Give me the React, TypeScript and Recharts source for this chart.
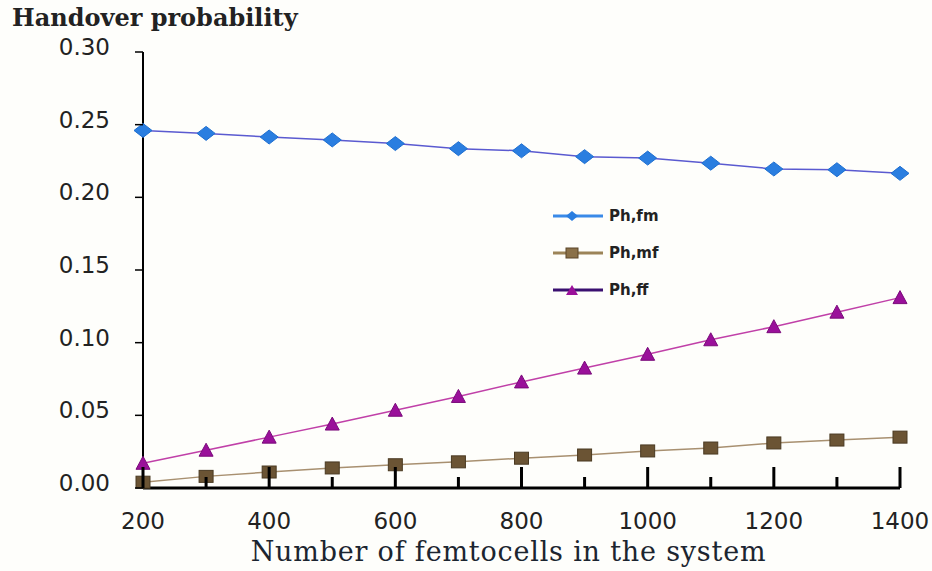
import { Line, LineChart, XAxis, YAxis } from "recharts";

const femtocells = [200, 300, 400, 500, 600, 700, 800, 900, 1000, 1100, 1200, 1300, 1400];
const phFm = [0.246, 0.244, 0.2415, 0.2395, 0.237, 0.2335, 0.232, 0.228, 0.227, 0.2235, 0.2195, 0.219, 0.2165];
const phMf = [0.004, 0.008, 0.011, 0.0138, 0.016, 0.018, 0.0205, 0.0227, 0.0255, 0.0275, 0.031, 0.033, 0.035];
const phFf = [0.017, 0.026, 0.035, 0.044, 0.0535, 0.063, 0.073, 0.0825, 0.092, 0.102, 0.111, 0.121, 0.131];
const xTicks = [200, 300, 400, 500, 600, 700, 800, 900, 1000, 1100, 1200, 1300, 1400];
const yTicks = [0, 0.05, 0.1, 0.15, 0.2, 0.25, 0.3];
const seriesNames = ["Ph,fm", "Ph,mf", "Ph,ff"];

const data = femtocells.map((n, i) => ({ n, fm: phFm[i], mf: phMf[i], ff: phFf[i] }));

const FM_COLOR = "#2a7ee0";
const MF_COLOR = "#6b5434";
const FF_COLOR = "#9a109a";

function Diamond({ cx, cy }: any) {
  return <path d={`M${cx - 9},${cy} L${cx},${cy - 7} L${cx + 9},${cy} L${cx},${cy + 7} Z`} fill={FM_COLOR} stroke="#1f6fd0" />;
}

function Square({ cx, cy }: any) {
  return <rect x={cx - 7} y={cy - 6} width={14} height={12} fill={MF_COLOR} stroke="#4a3a22" />;
}

function Triangle({ cx, cy }: any) {
  return <path d={`M${cx - 7},${cy + 6} L${cx},${cy - 7} L${cx + 7},${cy + 6} Z`} fill={FF_COLOR} stroke="#7a0a7a" />;
}

function XTick({ x, y, payload }: any) {
  const major = payload.value % 200 === 0;
  return (
    <g>
      <line x1={x} x2={x} y1={y} y2={y - (major ? 21 : 11)} stroke="#000" strokeWidth={3} />
      {major && (
        <text x={x} y={y + 41} textAnchor="middle" fontFamily="DejaVu Sans" fontSize={23} fill="#222">
          {payload.value}
        </text>
      )}
    </g>
  );
}

function YTick({ x, y, payload }: any) {
  return (
    <g>
      <line x1={x - 8} x2={x} y1={y} y2={y} stroke="#000" strokeWidth={1.5} />
      <text x={x - 33} y={y + 3} textAnchor="end" fontFamily="DejaVu Sans" fontSize={23} fill="#222">
        {payload.value.toFixed(2)}
      </text>
    </g>
  );
}

function LegendBox() {
  const rows = [
    { name: seriesNames[0], color: "#3a8ae8", marker: <path d="M20,2 L26,7 L20,12 L14,7 Z" fill={FM_COLOR} /> },
    { name: seriesNames[1], color: "#9c8458", marker: <rect x={14} y={2} width={12} height={10} fill="#8a7048" stroke="#5a4528" /> },
    { name: seriesNames[2], color: "#3a1070", marker: <path d="M14,12 L20,2 L26,12 Z" fill={FF_COLOR} /> },
  ];
  return (
    <div style={{ position: "absolute", left: 552, top: 197 }}>
      {rows.map((r) => (
        <div key={r.name} style={{ display: "flex", alignItems: "center", height: 37 }}>
          <svg width={52} height={14}>
            <line x1={1} x2={51} y1={7} y2={7} stroke={r.color} strokeWidth={3} />
            {r.marker}
          </svg>
          <span style={{ fontFamily: "DejaVu Sans", fontSize: 15, fontWeight: 600, color: "#222", marginLeft: 5 }}>
            {r.name}
          </span>
        </div>
      ))}
    </div>
  );
}

export default function App() {
  return (
    <div style={{ position: "absolute", left: 0, top: 0, width: 932, height: 571, background: "#fefefb" }}>
      <div
        style={{
          position: "absolute",
          left: 12,
          top: 3,
          fontFamily: "DejaVu Serif",
          fontSize: 24,
          fontWeight: 700,
          color: "#222",
        }}
      >
        Handover probability
      </div>
      <LineChart width={932} height={571} data={data} margin={{ top: 52, right: 32, left: 0, bottom: 0 }}>
        <XAxis
          dataKey="n"
          type="number"
          domain={[200, 1400]}
          ticks={xTicks}
          interval={0}
          height={83}
          tickSize={0}
          tickMargin={0}
          tick={<XTick />}
          axisLine={{ stroke: "#000", strokeWidth: 3 }}
          label={{
            value: "Number of femtocells in the system",
            position: "insideBottom",
            offset: 10,
            dx: -13,
            fontFamily: "DejaVu Serif",
            fontSize: 27,
            letterSpacing: 0.8,
            fill: "#1c2530",
          }}
        />
        <YAxis
          type="number"
          domain={[0, 0.3]}
          ticks={yTicks}
          interval={0}
          width={143}
          tickSize={0}
          tickMargin={0}
          tick={<YTick />}
          axisLine={{ stroke: "#000", strokeWidth: 2 }}
        />
        <Line dataKey="fm" name={seriesNames[0]} stroke="#5a5ad0" strokeWidth={1.5} dot={<Diamond />} isAnimationActive={false} />
        <Line dataKey="mf" name={seriesNames[1]} stroke="#a89070" strokeWidth={1.5} dot={<Square />} isAnimationActive={false} />
        <Line dataKey="ff" name={seriesNames[2]} stroke="#c040a8" strokeWidth={1.5} dot={<Triangle />} isAnimationActive={false} />
      </LineChart>
      <LegendBox />
    </div>
  );
}
